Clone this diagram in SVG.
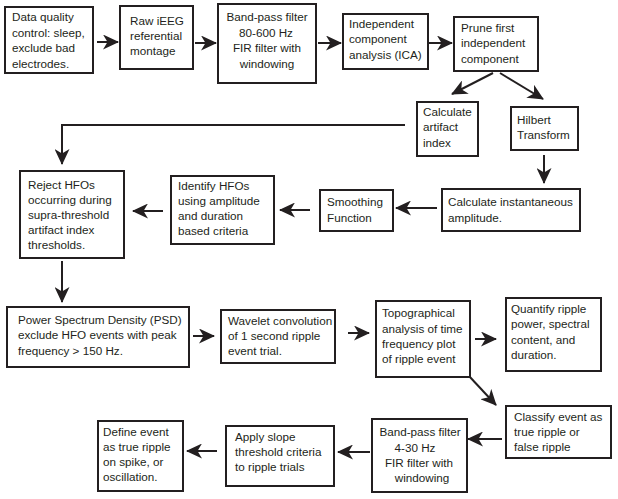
<svg xmlns="http://www.w3.org/2000/svg" width="618" height="499" viewBox="0 0 618 499">
<style>
rect{fill:#fff;stroke:#231f20;stroke-width:2}
text{font-family:"Liberation Sans",Arial,sans-serif;font-size:11.7px;fill:#231f20}
.c{text-anchor:middle}
.ln{fill:none;stroke:#231f20;stroke-width:2}
</style>
<defs>
<marker id="ah" viewBox="0 0 16 15" refX="15" refY="7.5" markerWidth="16" markerHeight="15" markerUnits="userSpaceOnUse" orient="auto">
<path d="M0,0 L16,7.5 L0,15 L4.5,7.5 Z" fill="#231f20"/>
</marker>
</defs>
<rect width="618" height="499" style="stroke:none;fill:#fff"/>
<g id="connectors">
<line class="ln" x1="97" y1="42" x2="118" y2="42" marker-end="url(#ah)"/>
<line class="ln" x1="195" y1="43" x2="216" y2="43" marker-end="url(#ah)"/>
<line class="ln" x1="318" y1="43" x2="341" y2="43" marker-end="url(#ah)"/>
<line class="ln" x1="429" y1="43" x2="452" y2="43" marker-end="url(#ah)"/>
<line class="ln" x1="493" y1="73" x2="452" y2="94" marker-end="url(#ah)"/>
<line class="ln" x1="500" y1="73" x2="543" y2="99" marker-end="url(#ah)"/>
<polyline class="ln" points="405,125 62,125 62,164" marker-end="url(#ah)"/>
<line class="ln" x1="544" y1="155" x2="544" y2="183" marker-end="url(#ah)"/>
<line class="ln" x1="437" y1="208" x2="396" y2="208" marker-end="url(#ah)"/>
<line class="ln" x1="310" y1="210" x2="280" y2="210" marker-end="url(#ah)"/>
<line class="ln" x1="163" y1="211" x2="133" y2="211" marker-end="url(#ah)"/>
<line class="ln" x1="62" y1="261" x2="62" y2="302" marker-end="url(#ah)"/>
<line class="ln" x1="193" y1="336" x2="214" y2="336" marker-end="url(#ah)"/>
<line class="ln" x1="348" y1="333" x2="369" y2="333" marker-end="url(#ah)"/>
<line class="ln" x1="475" y1="339" x2="496" y2="339" marker-end="url(#ah)"/>
<line class="ln" x1="469" y1="376" x2="496" y2="405" marker-end="url(#ah)"/>
<line class="ln" x1="502" y1="439" x2="468" y2="439" marker-end="url(#ah)"/>
<line class="ln" x1="370" y1="452" x2="338" y2="452" marker-end="url(#ah)"/>
<line class="ln" x1="217" y1="451" x2="187" y2="451" marker-end="url(#ah)"/>
</g>
<g id="n1"><rect x="5" y="7" width="88" height="66"/>
<text x="12" y="21">Data quality</text><text x="12" y="36.5">control: sleep,</text><text x="12" y="52">exclude bad</text><text x="12" y="67.5">electrodes.</text></g>
<g id="n2"><rect x="120" y="6" width="73" height="63"/>
<text x="130" y="25">Raw iEEG</text><text x="130" y="40">referential</text><text x="130" y="55">montage</text></g>
<g id="n3"><rect x="218" y="4" width="98" height="79"/>
<text class="c" x="267" y="21">Band-pass filter</text><text class="c" x="266" y="37">80-600 Hz</text><text class="c" x="267" y="52">FIR filter with</text><text class="c" x="267" y="68">windowing</text></g>
<g id="n4"><rect x="343" y="14" width="85" height="55"/>
<text x="349" y="28">Independent</text><text x="349" y="43">component</text><text x="349" y="59">analysis (ICA)</text></g>
<g id="n5"><rect x="454" y="17" width="84" height="54"/>
<text x="461" y="32">Prune first</text><text x="461" y="47">independent</text><text x="461" y="63">component</text></g>
<g id="n6"><rect x="417" y="102" width="61" height="54"/>
<text x="423" y="116">Calculate</text><text x="423" y="131">artifact</text><text x="423" y="147">index</text></g>
<g id="n7"><rect x="511" y="107" width="67" height="43"/>
<text x="517" y="124">Hilbert</text><text x="517" y="139">Transform</text></g>
<g id="n8"><rect x="442" y="189" width="138" height="42"/>
<text x="448" y="206">Calculate instantaneous</text><text x="448" y="222">amplitude.</text></g>
<g id="n9"><rect x="320" y="190" width="73" height="41"/>
<text x="327" y="206">Smoothing</text><text x="327" y="222">Function</text></g>
<g id="n10"><rect x="171" y="176" width="103" height="68"/>
<text x="178" y="190">Identify HFOs</text><text x="178" y="205">using amplitude</text><text x="178" y="220">and duration</text><text x="178" y="235">based criteria</text></g>
<g id="n11"><rect x="20" y="171" width="104" height="87"/>
<text x="28" y="189">Reject HFOs</text><text x="28" y="204">occurring during</text><text x="28" y="219">supra-threshold</text><text x="28" y="234">artifact index</text><text x="28" y="249">thresholds.</text></g>
<g id="n12"><rect x="7" y="307" width="182" height="60"/>
<text x="18" y="324">Power Spectrum Density (PSD)</text><text x="18" y="339">exclude HFO events with peak</text><text x="18" y="355">frequency &gt; 150 Hz.</text></g>
<g id="n13"><rect x="221" y="310" width="114" height="53"/>
<text x="228" y="325">Wavelet convolution</text><text x="228" y="340">of 1 second ripple</text><text x="228" y="355">event trial.</text></g>
<g id="n14"><rect x="376" y="301" width="94" height="76"/>
<text x="382" y="317">Topographical</text><text x="382" y="333">analysis of time</text><text x="382" y="348">frequency plot</text><text x="382" y="363">of ripple event</text></g>
<g id="n15"><rect x="506" y="298" width="95" height="73"/>
<text x="511" y="313">Quantify ripple</text><text x="511" y="328">power, spectral</text><text x="511" y="344">content, and</text><text x="511" y="359">duration.</text></g>
<g id="n16"><rect x="506" y="406" width="105" height="52"/>
<text x="514" y="421">Classify event as</text><text x="514" y="436">true ripple or</text><text x="514" y="451">false ripple</text></g>
<g id="n17"><rect x="372" y="419" width="95" height="73"/>
<text class="c" x="420" y="436">Band-pass filter</text><text class="c" x="415" y="452">4-30 Hz</text><text class="c" x="419" y="467">FIR filter with</text><text class="c" x="422" y="482">windowing</text></g>
<g id="n18"><rect x="226" y="426" width="108" height="60"/>
<text x="235" y="441">Apply slope</text><text x="235" y="456">threshold criteria</text><text x="235" y="471">to ripple trials</text></g>
<g id="n19"><rect x="98" y="421" width="85" height="70"/>
<text x="103" y="436">Define event</text><text x="103" y="451">as true ripple</text><text x="103" y="466">on spike, or</text><text x="103" y="481">oscillation.</text></g>
</svg>
